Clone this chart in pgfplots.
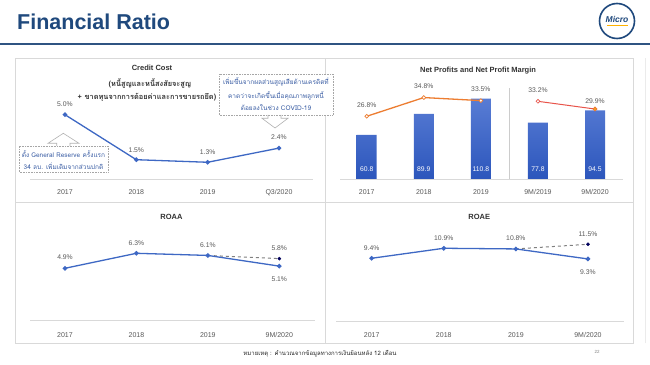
\documentclass[border=0pt]{standalone}
\usepackage{fontspec}
\setmainfont{Liberation Sans}
\newfontfamily\thai[Script=Thai]{Loma}
\usepackage{pgfplots}
\pgfplotsset{compat=1.18}
\definecolor{navy}{RGB}{31,73,125}
\definecolor{rule}{RGB}{47,84,130}
\definecolor{lineblue}{RGB}{62,104,196}
\definecolor{txtgray}{RGB}{89,89,89}
\definecolor{orange1}{RGB}{237,125,49}
\definecolor{red1}{RGB}{232,84,74}
\definecolor{barL}{RGB}{88,124,212}
\definecolor{barD}{RGB}{44,86,188}
\definecolor{annblue}{RGB}{60,95,165}
\pgfplotsset{
 panel/.style={
  scale only axis, clip=false, ymin=0, anchor=south west,
  axis y line=none, axis x line*=bottom,
  x axis line style={draw=black!15, line width=0.8pt, -},
  major tick length=0pt,
  tick label style={font=\fontsize{7}{8}\selectfont, text=txtgray},
  xticklabel style={anchor=base, yshift=#1},
 },
 vlab/.style={
  nodes near coords={\pgfmathprintnumber[fixed,fixed zerofill,precision=1,assume math mode=true]{\pgfplotspointmeta}\%},
  point meta=y,
  visualization depends on={\thisrow{dy}\as\dy},
  every node near coord/.style={anchor=center, yshift=\dy pt, font=\fontsize{6.8}{8}\selectfont, text=txtgray, inner sep=0pt},
 },
}
\begin{document}
\begin{tikzpicture}[x=1pt,y=1pt]
\path[use as bounding box, fill=white] (0,0) rectangle (650,364);
% header
\node[anchor=west, font=\bfseries\fontsize{21.5}{21.5}\selectfont, text=navy, inner sep=0pt] at (17,342) {Financial Ratio};
\draw[rule, line width=2pt] (0,320) -- (650,320);
\draw[navy, line width=1.6pt, fill=white] (617,343) circle (17.5);
\node[font=\bfseries\itshape\fontsize{8.5}{8.5}\selectfont, text=navy] at (617,344.5) {Micro};
\fill[orange!60!yellow] (607,337.5) rectangle (628,339);
% panels
\draw[black!15, line width=0.8pt] (15,21) rectangle (633,306);
\draw[black!15, line width=0.8pt] (325,21) -- (325,306);
\draw[black!15, line width=0.8pt] (15,162) -- (633,162);
\draw[black!8, line width=0.8pt] (645,21) -- (645,306);
% titles
\node[font=\bfseries\fontsize{7.5}{8}\selectfont, text=black!80] at (152,295.7) {Credit Cost};
\node[font=\thai\bfseries\fontsize{7.4}{9}\selectfont, text=black!80] at (150,281) {(หนี้สูญและหนี้สงสัยจะสูญ};
\node[font=\thai\bfseries\fontsize{7.4}{9}\selectfont, text=black!80] at (147,266.3) {+ ขาดทุนจากการด้อยค่าและการขายรถยึด)};
\node[font=\bfseries\fontsize{7.5}{8}\selectfont, text=black!80] at (478,293) {Net Profits and Net Profit Margin};
\node[font=\bfseries\fontsize{7.5}{8}\selectfont, text=black!80] at (171.5,146.7) {ROAA};
\node[font=\bfseries\fontsize{7.5}{8}\selectfont, text=black!80] at (479.3,147) {ROAE};

% Credit cost
\begin{axis}[panel=-15.5pt, at={(30pt,185pt)}, width=283pt, height=77.2pt,
  xmin=-0.49, xmax=3.477, ymax=6, xtick={0,1,2,3}, xticklabels={2017,2018,2019,Q3/2020}]
\addplot[lineblue, line width=1.3pt, mark=*, mark size=1.6pt, vlab] table {
x y dy
0 5.0 10.8
1 1.5 10
2 1.3 10
3 2.4 11.3
};
\end{axis}

% Net profits bars
\begin{axis}[panel=-15.2pt, at={(340pt,185pt)}, width=283pt, height=95pt,
  xmin=-0.468, xmax=4.49, ymax=131.03, xtick={0,1,2,3,4},
  xticklabels={2017,2018,2019,9M/2019,9M/2020}]
\addplot[ybar, bar width=20pt, draw=none, top color=barL, bottom color=barD,
  nodes near coords={\pgfmathprintnumber[fixed,fixed zerofill,precision=1,assume math mode=true]{\pgfplotspointmeta}},
  point meta=y, visualization depends on={rawy\as\by},
  every node near coord/.style={anchor=center, yshift={(10.3-0.725*\by)*1pt}, font=\fontsize{6.8}{8}\selectfont, text=white, inner sep=0pt}]
  coordinates {(0,60.8) (1,89.9) (2,110.8) (3,77.8) (4,94.5)};
\draw[black!20, line width=0.6pt] (axis cs:2.5,0) -- (axis cs:2.5,125.5);
\end{axis}
\begin{axis}[scale only axis, anchor=south west, at={(340pt,185pt)}, width=283pt, height=95pt,
  xmin=-0.468, xmax=4.49, ymin=0, ymax=40.6, axis lines=none, clip=false]
\addplot[orange1, line width=1.3pt, mark=*, mark size=1.9pt, mark options={fill=white, draw=orange1, line width=0.7pt}, vlab] table {
x y dy
0 26.8 11
1 34.8 11.3
2 33.5 11.3
};
\addplot[red1, line width=1pt, mark=*, mark size=1.9pt, mark options={fill=white, draw=red1, line width=0.7pt}, vlab] table {
x y dy
3 33.2 11.5
4 29.9 7.8
};
\addplot[only marks, mark=*, mark size=1.9pt, mark options={fill=orange1!70!yellow, draw=orange1, line width=0.7pt}] coordinates {(4,29.9)};
\end{axis}

% ROAA
\begin{axis}[panel=-16.8pt, at={(30pt,43.3pt)}, width=285pt, height=80pt,
  xmin=-0.49, xmax=3.5, ymax=7.477, xtick={0,1,2,3}, xticklabels={2017,2018,2019,9M/2020}]
\addplot[black!50, dashed, line width=1pt] coordinates {(2,6.1) (3,5.8)};
\addplot[only marks, mark=*, mark size=1.6pt, color=black!55!blue!80!black, vlab] table {
x y dy
3 5.8 10.4
};
\addplot[lineblue, line width=1.3pt, mark=*, mark size=1.6pt, vlab] table {
x y dy
0 4.9 11
1 6.3 10
2 6.1 10.7
3 5.1 -12.7
};
\end{axis}

% ROAE
\begin{axis}[panel=-16.8pt, at={(336pt,43pt)}, width=288pt, height=80pt,
  xmin=-0.495, xmax=3.5, ymax=11.99, xtick={0,1,2,3}, xticklabels={2017,2018,2019,9M/2020}]
\addplot[black!50, dashed, line width=1pt] coordinates {(2,10.8) (3,11.5)};
\addplot[only marks, mark=*, mark size=1.6pt, color=black!55!blue!80!black, vlab] table {
x y dy
3 11.5 10.4
};
\addplot[lineblue, line width=1.3pt, mark=*, mark size=1.6pt, vlab] table {
x y dy
0 9.4 10
1 10.9 10.4
2 10.8 10.6
3 9.3 -13
};
\end{axis}

% annotations (credit cost)
\draw[black!35, densely dotted, line width=0.6pt] (19,192) rectangle (108,218);
\node[font=\thai\fontsize{6.5}{7}\selectfont, text=annblue] at (63.5,209.7) {ตั้ง General Reserve ครั้งแรก};
\node[font=\thai\fontsize{6.5}{7}\selectfont, text=annblue] at (63.5,198) {34 ลบ. เพิ่มเติมจากส่วนปกติ};
\draw[black!30, line width=0.6pt] (56.7,218) -- (56.7,220.7) -- (48,220.7) -- (63.3,230.7) -- (79,220.7) -- (70,220.7) -- (70,218);
\draw[black!35, densely dotted, line width=0.6pt, fill=white] (219,249) rectangle (333,290);
\node[font=\thai\fontsize{6.5}{7}\selectfont, text=annblue] at (276,281.7) {เพิ่มขึ้นจากผลส่วนสูญเสียด้านเครดิตที่};
\node[font=\thai\fontsize{6.5}{7}\selectfont, text=annblue] at (276,268.3) {คาดว่าจะเกิดขึ้นเมื่อคุณภาพลูกหนี้};
\node[font=\thai\fontsize{6.5}{7}\selectfont, text=annblue] at (276,256.7) {ด้อยลงในช่วง COVID-19};
\draw[black!30, line width=0.6pt] (268,249) -- (268,245.7) -- (262,245.7) -- (275,236) -- (288,245.7) -- (281,245.7) -- (281,249);
% footer
\node[font=\thai\fontsize{6}{7}\selectfont, text=black!85] at (320,10) {หมายเหตุ : คำนวณจากข้อมูลทางการเงินย้อนหลัง 12 เดือน};
\node[font=\fontsize{4.5}{5}\selectfont, text=black!50] at (597,12) {22};
\end{tikzpicture}
\end{document}
